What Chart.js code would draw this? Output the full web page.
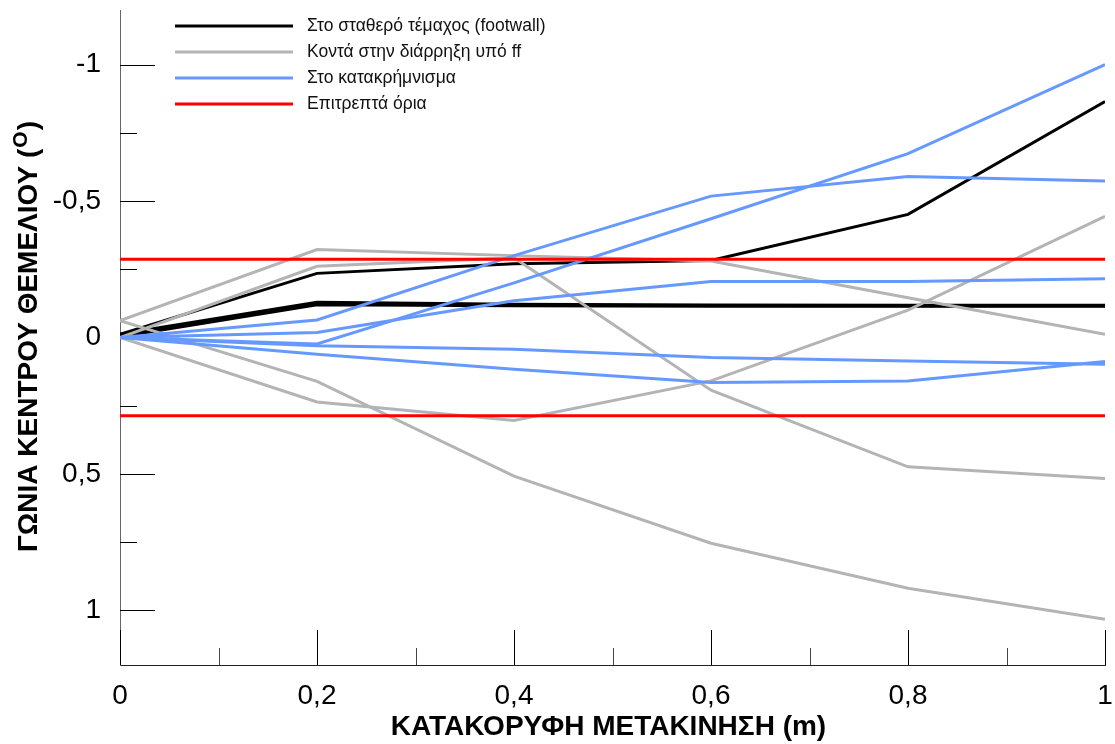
<!DOCTYPE html>
<html>
<head>
<meta charset="utf-8">
<script src="https://cdn.jsdelivr.net/npm/chart.js@4.4.1/dist/chart.umd.min.js"></script>
<style>
  html, body { margin: 0; padding: 0; background: #ffffff; }
  #wrap { width: 1115px; height: 744px; }
</style>
</head>
<body>
<div id="wrap"><canvas id="c" width="1115" height="744"></canvas></div>
<script>
// Vertical displacement steps (m)
const xValues = [0, 0.2, 0.4, 0.6, 0.8, 1];

// Footing rotation (degrees) – foundations on the footwall
const footwallA = [-0.012, -0.235, -0.270, -0.282, -0.451, -0.865];
const footwallB = [-0.012, -0.128, -0.121, -0.118, -0.117, -0.117];
const footwallC = [-0.004, -0.121, -0.117, -0.115, -0.115, -0.115];

// Foundations close to the fault rupture
const nearFaultA = [-0.062, -0.322, -0.300, -0.280, -0.146, -0.012];
const nearFaultB = [0.000, -0.261, -0.292, 0.193, 0.474, 0.517];
const nearFaultC = [-0.062, 0.161, 0.508, 0.754, 0.919, 1.032];
const nearFaultD = [0.000, 0.236, 0.304, 0.159, -0.100, -0.444];

// Foundations on the scree deposit
const debrisA = [0, 0.024, -0.200, -0.435, -0.674, -1.000];
const debrisB = [0, -0.064, -0.300, -0.518, -0.590, -0.573];
const debrisC = [0, -0.018, -0.135, -0.205, -0.205, -0.215];
const debrisD = [0, 0.030, 0.043, 0.073, 0.086, 0.098];
const debrisE = [0, 0.061, 0.116, 0.165, 0.159, 0.088];

// Allowable rotation limits (1/200 rad)
const limitX = [0, 1];
const limitValue = 0.2865;

// Axis ticks
const xTicks = [0, 0.2, 0.4, 0.6, 0.8, 1];
const xMinorTicks = [0.1, 0.3, 0.5, 0.7, 0.9];
const yTicks = [-1, -0.5, 0, 0.5, 1];
const yMinorTicks = [-0.75, -0.25, 0.25, 0.75];

const seriesNames = [
  'Στο σταθερό τέμαχος (footwall)',
  'Κοντά στην διάρρηξη υπό ff',
  'Στο κατακρήμνισμα',
  'Επιτρεπτά όρια'
];
const seriesColors = ['#000000', '#b4b4b4', '#6699ff', '#ff0000'];

const FONT = "Arial, 'Liberation Sans', sans-serif";

const toPoints = (vals) => vals.map((v, i) => ({ x: xValues[i], y: v }));

function lineSet(label, vals, colorIdx, width, order) {
  return {
    label,
    data: toPoints(vals),
    borderColor: seriesColors[colorIdx],
    backgroundColor: seriesColors[colorIdx],
    borderWidth: width,
    pointRadius: 0,
    tension: 0,
    fill: false,
    order
  };
}

const datasets = [
  lineSet(seriesNames[0], footwallA, 0, 3, 4),
  lineSet(seriesNames[0], footwallB, 0, 3.5, 4),
  lineSet(seriesNames[0], footwallC, 0, 3.5, 4),
  lineSet(seriesNames[1], nearFaultA, 1, 3, 3),
  lineSet(seriesNames[1], nearFaultB, 1, 3, 3),
  lineSet(seriesNames[1], nearFaultC, 1, 3, 3),
  lineSet(seriesNames[1], nearFaultD, 1, 3, 3),
  lineSet(seriesNames[2], debrisA, 2, 3, 2),
  lineSet(seriesNames[2], debrisB, 2, 3, 2),
  lineSet(seriesNames[2], debrisC, 2, 3, 2),
  lineSet(seriesNames[2], debrisD, 2, 3, 2),
  lineSet(seriesNames[2], debrisE, 2, 3, 2),
  {
    label: seriesNames[3],
    data: limitX.map(x => ({ x, y: -limitValue })),
    borderColor: seriesColors[3], borderWidth: 3, pointRadius: 0, order: 1
  },
  {
    label: seriesNames[3],
    data: limitX.map(x => ({ x, y: limitValue })),
    borderColor: seriesColors[3], borderWidth: 3, pointRadius: 0, order: 1
  }
];

const fmt = (v) => String(v).replace('.', ',');

// Inward tick marks, axis titles and the legend block
const decorations = {
  id: 'decorations',
  beforeDatasetsDraw(chart) {
    const { ctx, scales: { x, y }, chartArea: a } = chart;
    ctx.save();
    ctx.lineWidth = 1;
    ctx.strokeStyle = '#000';
    const seg = (x1, y1, x2, y2) => { ctx.beginPath(); ctx.moveTo(x1, y1); ctx.lineTo(x2, y2); ctx.stroke(); };
    xTicks.forEach(v => { const p = Math.round(x.getPixelForValue(v)) + 0.5; seg(p, a.bottom, p, a.bottom - 35); });
    ctx.strokeStyle = '#444';
    xMinorTicks.forEach(v => { const p = Math.round(x.getPixelForValue(v)) + 0.5; seg(p, a.bottom, p, a.bottom - 17); });
    ctx.strokeStyle = '#000';
    yTicks.forEach(v => { const p = Math.round(y.getPixelForValue(v)) + 0.5; seg(a.left, p, a.left + 35, p); });
    yMinorTicks.forEach(v => { const p = Math.round(y.getPixelForValue(v)) + 0.5; seg(a.left, p, a.left + 17, p); });
    ctx.restore();
  },
  afterDraw(chart) {
    const { ctx, chartArea: a } = chart;
    ctx.save();
    ctx.fillStyle = '#000';

    // x axis title
    ctx.font = `bold 28px ${FONT}`;
    ctx.textAlign = 'center';
    ctx.textBaseline = 'middle';
    ctx.fillText('ΚΑΤΑΚΟΡΥΦΗ ΜΕΤΑΚΙΝΗΣΗ (m)', (a.left + a.right) / 2 - 4, 727);

    // y axis title with superscript degree letter
    ctx.translate(29, (a.top + a.bottom) / 2);
    ctx.rotate(-Math.PI / 2);
    const mainTxt = 'ΓΩΝΙΑ ΚΕΝΤΡΟΥ ΘΕΜΕΛΙΟΥ (';
    const supTxt = 'O';
    const closeTxt = ')';
    ctx.font = `bold 28px ${FONT}`;
    const w1 = ctx.measureText(mainTxt).width;
    const w3 = ctx.measureText(closeTxt).width;
    ctx.font = `bold 21px ${FONT}`;
    const w2 = ctx.measureText(supTxt).width;
    let sx = -(w1 + w2 + w3) / 2;
    ctx.textAlign = 'left';
    ctx.font = `bold 28px ${FONT}`;
    ctx.fillText(mainTxt, sx, 0);
    ctx.font = `bold 21px ${FONT}`;
    ctx.fillText(supTxt, sx + w1 + 1, -8);
    ctx.font = `bold 28px ${FONT}`;
    ctx.fillText(closeTxt, sx + w1 + w2 + 2, 0);
    ctx.restore();

    // legend
    ctx.save();
    ctx.font = `17.5px ${FONT}`;
    ctx.textAlign = 'left';
    ctx.textBaseline = 'middle';
    seriesNames.forEach((name, i) => {
      const yy = 26 + i * 26;
      ctx.strokeStyle = seriesColors[i];
      ctx.lineWidth = 3;
      ctx.beginPath();
      ctx.moveTo(175, yy);
      ctx.lineTo(293, yy);
      ctx.stroke();
      ctx.fillStyle = '#111';
      ctx.fillText(name, 307, yy);
    });
    ctx.restore();
  }
};

new Chart(document.getElementById('c'), {
  type: 'line',
  data: { datasets },
  options: {
    responsive: false,
    animation: false,
    devicePixelRatio: 1,
    layout: { padding: { top: 10, right: 10, left: 0, bottom: 0 } },
    plugins: { legend: { display: false }, tooltip: { enabled: false } },
    scales: {
      x: {
        type: 'linear',
        min: 0,
        max: 1,
        afterFit: (s) => { s.height = 79; s.paddingLeft = 0; s.paddingRight = 0; },
        afterBuildTicks: (s) => { s.ticks = xTicks.map(v => ({ value: v })); },
        grid: { display: false, drawTicks: false },
        border: { display: true, color: '#222', width: 1 },
        ticks: {
          padding: 14,
          color: '#000',
          font: { family: FONT, size: 28 },
          maxRotation: 0,
          autoSkip: false,
          callback: (v) => fmt(v)
        }
      },
      y: {
        type: 'linear',
        min: -1.2,
        max: 1.2,
        reverse: true,
        afterFit: (s) => { s.width = 120; s.paddingTop = 0; s.paddingBottom = 0; },
        afterBuildTicks: (s) => { s.ticks = yTicks.map(v => ({ value: v })); },
        grid: { display: false, drawTicks: false },
        border: { display: true, color: '#666', width: 1 },
        ticks: {
          padding: 19,
          color: '#000',
          font: { family: FONT, size: 28 },
          autoSkip: false,
          callback: (v) => fmt(v)
        }
      }
    }
  },
  plugins: [decorations]
});
</script>
</body>
</html>
